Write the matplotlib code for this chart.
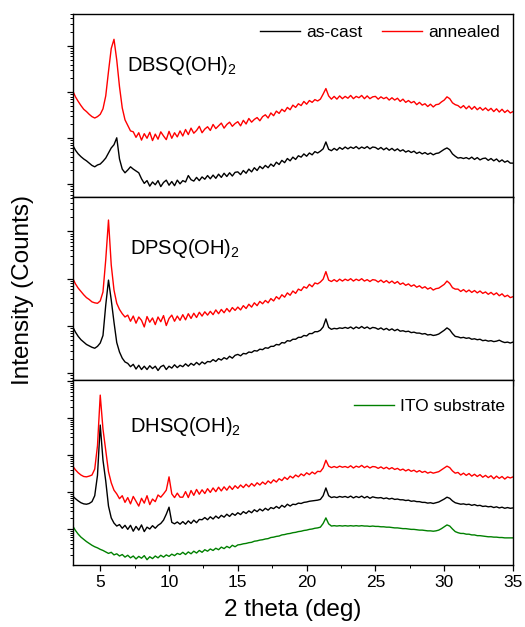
import numpy as np
import matplotlib
matplotlib.use("Agg")
import matplotlib.pyplot as plt
from matplotlib.ticker import LogLocator, MultipleLocator, NullFormatter

plt.rcParams["font.family"] = ["Liberation Sans", "DejaVu Sans"]
plt.rcParams["mathtext.fontset"] = "custom"
plt.rcParams["mathtext.rm"] = "Liberation Sans"

# 2 theta sampling (deg), 0.2 deg steps from 3 to 35
two_theta = np.round(np.arange(3.0, 35.01, 0.2), 1)

# log10 intensity, one row = 2 deg
dbsq_annealed = [
    4.03, 3.90, 3.80, 3.71, 3.63, 3.58, 3.52, 3.47, 3.44, 3.47,
    3.52, 3.64, 3.92, 4.45, 4.95, 5.15, 4.70, 4.12, 3.66, 3.40,
    3.28, 3.16, 3.14, 3.02, 3.12, 2.96, 3.10, 3.00, 3.13, 2.95,
    3.09, 2.98, 3.14, 3.05, 2.97, 3.15, 3.00, 3.12, 3.03, 3.16,
    3.05, 3.19, 3.08, 3.22, 3.11, 3.17, 3.26, 3.12, 3.20, 3.25,
    3.17, 3.30, 3.21, 3.27, 3.33, 3.22, 3.30, 3.35, 3.26, 3.32,
    3.36, 3.27, 3.39, 3.31, 3.43, 3.35, 3.41, 3.45, 3.38, 3.47,
    3.51, 3.44, 3.55, 3.49, 3.59, 3.54, 3.63, 3.58, 3.67, 3.62,
    3.72, 3.67, 3.75, 3.71, 3.80, 3.74, 3.82, 3.78, 3.84, 3.81,
    3.85, 3.96, 4.08, 3.92, 3.85, 3.91, 3.85, 3.92, 3.86, 3.91,
    3.87, 3.93, 3.86, 3.91, 3.88, 3.93, 3.86, 3.92, 3.86, 3.90,
    3.91, 3.85, 3.90, 3.86, 3.89, 3.83, 3.88, 3.83, 3.87, 3.80,
    3.85, 3.78, 3.82, 3.77, 3.80, 3.73, 3.78, 3.72, 3.75, 3.69,
    3.74, 3.68, 3.73, 3.74, 3.79, 3.83, 3.90, 3.86, 3.77, 3.73,
    3.71, 3.66, 3.71, 3.64, 3.70, 3.63, 3.69, 3.62, 3.67, 3.61,
    3.66, 3.60, 3.65, 3.58, 3.64, 3.57, 3.63, 3.56, 3.61, 3.55,
    3.58,
]
dbsq_ascast = [
    2.85, 2.74, 2.66, 2.60, 2.55, 2.51, 2.46, 2.41, 2.38, 2.42,
    2.44, 2.50, 2.57, 2.68, 2.79, 2.86, 3.01, 2.55, 2.33, 2.25,
    2.31, 2.38, 2.33, 2.29, 2.25, 2.12, 2.02, 2.08, 1.96, 2.05,
    1.99, 2.08, 1.95, 2.04, 2.09, 1.98, 2.06, 1.97, 2.09, 2.01,
    2.08, 2.05, 2.19, 2.10, 2.07, 2.15, 2.08, 2.16, 2.11, 2.19,
    2.12, 2.20, 2.13, 2.22, 2.15, 2.24, 2.17, 2.25, 2.18, 2.26,
    2.27, 2.21, 2.30, 2.24, 2.33, 2.27, 2.36, 2.30, 2.39, 2.34,
    2.41, 2.36, 2.44, 2.39, 2.48, 2.43, 2.52, 2.47, 2.56, 2.51,
    2.59, 2.54, 2.62, 2.59, 2.66, 2.61, 2.68, 2.64, 2.71, 2.68,
    2.72, 2.77, 2.92, 2.76, 2.73, 2.78, 2.74, 2.80, 2.76, 2.81,
    2.77, 2.81, 2.78, 2.82, 2.77, 2.81, 2.78, 2.82, 2.77, 2.81,
    2.80, 2.76, 2.80, 2.75, 2.79, 2.74, 2.78, 2.73, 2.77, 2.72,
    2.75, 2.70, 2.73, 2.69, 2.72, 2.67, 2.70, 2.66, 2.69, 2.65,
    2.68, 2.64, 2.67, 2.68, 2.72, 2.76, 2.79, 2.75, 2.66, 2.61,
    2.57, 2.58, 2.56, 2.58, 2.55, 2.59, 2.54, 2.58, 2.53, 2.56,
    2.57, 2.52, 2.56, 2.51, 2.55, 2.49, 2.53, 2.48, 2.51, 2.46,
    2.46,
]
dpsq_annealed = [
    4.01, 3.89, 3.80, 3.73, 3.66, 3.60, 3.56, 3.51, 3.49, 3.48,
    3.53, 3.72, 4.40, 5.24, 4.29, 3.76, 3.48, 3.35, 3.26, 3.19,
    3.23, 3.10, 3.21, 3.06, 3.19, 3.12, 2.98, 3.20, 3.08, 3.17,
    3.03, 3.19, 3.09, 3.22, 3.01, 3.16, 3.23, 3.10, 3.21, 3.12,
    3.24, 3.13, 3.26, 3.16, 3.27, 3.18, 3.29, 3.21, 3.30, 3.23,
    3.31, 3.24, 3.34, 3.26, 3.35, 3.28, 3.37, 3.30, 3.39, 3.33,
    3.40, 3.34, 3.43, 3.37, 3.46, 3.40, 3.49, 3.43, 3.52, 3.47,
    3.54, 3.49, 3.58, 3.53, 3.62, 3.57, 3.66, 3.61, 3.70, 3.65,
    3.74, 3.69, 3.78, 3.75, 3.83, 3.80, 3.88, 3.83, 3.91, 3.89,
    3.93, 3.99, 4.15, 3.97, 3.94, 3.98, 3.94, 3.99, 3.95, 3.99,
    3.96, 4.00, 3.95, 3.99, 3.96, 4.00, 3.95, 3.98, 3.94, 3.98,
    3.97, 3.93, 3.97, 3.92, 3.96, 3.91, 3.95, 3.90, 3.94, 3.88,
    3.91, 3.86, 3.89, 3.84, 3.87, 3.82, 3.85, 3.80, 3.83, 3.78,
    3.81, 3.76, 3.79, 3.80, 3.84, 3.88, 3.95, 3.90, 3.81, 3.78,
    3.78, 3.73, 3.77, 3.72, 3.76, 3.71, 3.75, 3.70, 3.74, 3.69,
    3.72, 3.67, 3.71, 3.66, 3.70, 3.64, 3.68, 3.62, 3.65, 3.60,
    3.62,
]
dpsq_ascast = [
    2.98, 2.87, 2.78, 2.71, 2.66, 2.61, 2.58, 2.55, 2.53, 2.57,
    2.64, 2.80, 3.44, 3.97, 3.55, 3.08, 2.65, 2.45, 2.32, 2.24,
    2.21, 2.14, 2.19, 2.09, 2.17, 2.08, 2.15, 2.08, 2.16, 2.10,
    2.15, 2.06, 2.14, 2.17, 2.08, 2.15, 2.11, 2.18, 2.12, 2.17,
    2.14, 2.20, 2.15, 2.21, 2.17, 2.23, 2.18, 2.24, 2.20, 2.25,
    2.24, 2.29, 2.25, 2.31, 2.28, 2.33, 2.30, 2.36, 2.32, 2.38,
    2.40, 2.37, 2.42, 2.41, 2.45, 2.44, 2.48, 2.47, 2.51, 2.50,
    2.54, 2.53, 2.57, 2.57, 2.61, 2.60, 2.65, 2.64, 2.69, 2.68,
    2.72, 2.72, 2.76, 2.76, 2.80, 2.79, 2.84, 2.84, 2.88, 2.88,
    2.91, 2.98, 3.15, 2.97, 2.93, 2.95, 2.94, 2.96, 2.95, 2.97,
    2.95, 2.98, 2.94, 2.98, 2.95, 2.99, 2.95, 2.98, 2.94, 2.97,
    2.96, 2.93, 2.96, 2.92, 2.95, 2.91, 2.94, 2.90, 2.93, 2.89,
    2.90, 2.88, 2.89, 2.86, 2.87, 2.85, 2.85, 2.83, 2.84, 2.81,
    2.82, 2.80, 2.81, 2.83, 2.87, 2.91, 2.96, 2.92, 2.84, 2.78,
    2.77, 2.75, 2.76, 2.74, 2.75, 2.72, 2.73, 2.71, 2.72, 2.69,
    2.70, 2.68, 2.69, 2.67, 2.68, 2.70, 2.67, 2.65, 2.66, 2.64,
    2.66,
]
dhsq_annealed = [
    3.70, 3.60, 3.52, 3.46, 3.42, 3.41, 3.43, 3.46, 3.62, 4.25,
    5.62, 4.70, 4.12, 3.55, 3.25, 3.05, 2.95, 2.82, 2.90, 2.72,
    2.85, 2.68, 2.88, 2.75, 2.62, 2.83, 2.70, 2.90, 2.66, 2.81,
    2.74, 2.92, 2.86, 2.95, 3.05, 3.41, 2.95, 2.85, 2.97, 2.86,
    2.86, 3.01, 2.85, 3.04, 2.91, 3.07, 2.94, 3.06, 2.96, 3.09,
    2.99, 3.11, 3.01, 3.13, 3.03, 3.14, 3.05, 3.16, 3.07, 3.17,
    3.10, 3.19, 3.12, 3.21, 3.14, 3.23, 3.16, 3.25, 3.19, 3.27,
    3.21, 3.30, 3.24, 3.33, 3.27, 3.36, 3.31, 3.40, 3.34, 3.43,
    3.38, 3.46, 3.41, 3.49, 3.44, 3.52, 3.47, 3.54, 3.49, 3.56,
    3.55, 3.65, 3.86, 3.70, 3.66, 3.69, 3.66, 3.70, 3.67, 3.69,
    3.66, 3.71, 3.65, 3.70, 3.67, 3.72, 3.66, 3.70, 3.65, 3.69,
    3.68, 3.64, 3.68, 3.63, 3.67, 3.62, 3.66, 3.61, 3.64, 3.59,
    3.62, 3.57, 3.61, 3.56, 3.59, 3.54, 3.58, 3.53, 3.56, 3.51,
    3.54, 3.51, 3.53, 3.55, 3.60, 3.65, 3.70, 3.66, 3.57, 3.51,
    3.53, 3.46, 3.51, 3.45, 3.50, 3.43, 3.48, 3.42, 3.47, 3.40,
    3.45, 3.39, 3.44, 3.36, 3.43, 3.37, 3.42, 3.35, 3.41, 3.38,
    3.41,
]
dhsq_ascast = [
    2.89, 2.82, 2.76, 2.71, 2.68, 2.67, 2.69, 2.74, 2.90, 3.45,
    4.81, 3.86, 3.30, 2.62, 2.30, 2.16, 2.08, 2.12, 2.02, 2.10,
    1.99, 2.10, 1.94, 2.07, 1.97, 2.11, 1.93, 2.05, 2.00, 2.09,
    2.02, 2.10, 2.15, 2.24, 2.40, 2.59, 2.18, 2.14, 2.19, 2.13,
    2.20, 2.13, 2.22, 2.15, 2.24, 2.17, 2.26, 2.25, 2.31, 2.25,
    2.33, 2.27, 2.35, 2.29, 2.37, 2.32, 2.40, 2.34, 2.42, 2.37,
    2.44, 2.39, 2.47, 2.42, 2.49, 2.44, 2.52, 2.47, 2.54, 2.49,
    2.56, 2.51, 2.58, 2.55, 2.61, 2.56, 2.64, 2.59, 2.67, 2.62,
    2.67, 2.66, 2.70, 2.69, 2.72, 2.73, 2.75, 2.76, 2.77, 2.78,
    2.80, 2.90, 3.11, 2.90, 2.85, 2.87, 2.85, 2.88, 2.86, 2.88,
    2.85, 2.89, 2.84, 2.88, 2.85, 2.89, 2.84, 2.88, 2.83, 2.87,
    2.85, 2.84, 2.85, 2.82, 2.84, 2.81, 2.83, 2.80, 2.81, 2.79,
    2.79, 2.77, 2.78, 2.75, 2.76, 2.74, 2.74, 2.72, 2.72, 2.70,
    2.71, 2.69, 2.71, 2.73, 2.77, 2.81, 2.86, 2.83, 2.76, 2.71,
    2.69, 2.67, 2.68, 2.66, 2.67, 2.64, 2.66, 2.63, 2.64, 2.61,
    2.62, 2.60, 2.61, 2.58, 2.60, 2.57, 2.59, 2.56, 2.58, 2.56,
    2.57,
]
ito_substrate = [
    2.08, 1.96, 1.86, 1.78, 1.72, 1.66, 1.61, 1.56, 1.52, 1.49,
    1.45, 1.42, 1.38, 1.34, 1.37, 1.30, 1.33, 1.27, 1.31, 1.24,
    1.29, 1.22, 1.27, 1.19, 1.26, 1.21, 1.28, 1.17, 1.25, 1.20,
    1.27, 1.22, 1.29, 1.24, 1.30, 1.26, 1.32, 1.28, 1.34, 1.31,
    1.37, 1.31, 1.38, 1.33, 1.40, 1.35, 1.42, 1.37, 1.44, 1.40,
    1.46, 1.42, 1.48, 1.44, 1.51, 1.47, 1.53, 1.49, 1.56, 1.52,
    1.57, 1.58, 1.60, 1.61, 1.63, 1.64, 1.67, 1.68, 1.70, 1.71,
    1.73, 1.74, 1.77, 1.78, 1.80, 1.81, 1.84, 1.85, 1.87, 1.88,
    1.90, 1.91, 1.93, 1.94, 1.96, 1.97, 1.99, 2.00, 2.02, 2.03,
    2.05, 2.15, 2.30, 2.14, 2.08, 2.09, 2.08, 2.09, 2.08, 2.09,
    2.08, 2.09, 2.08, 2.09, 2.08, 2.09, 2.08, 2.08, 2.07, 2.08,
    2.07, 2.07, 2.06, 2.06, 2.05, 2.05, 2.04, 2.03, 2.03, 2.02,
    2.01, 2.01, 2.00, 1.99, 1.99, 1.98, 1.97, 1.97, 1.96, 1.95,
    1.95, 1.94, 1.95, 1.97, 2.01, 2.06, 2.11, 2.08, 2.00, 1.93,
    1.90, 1.88, 1.88, 1.86, 1.86, 1.84, 1.84, 1.82, 1.82, 1.81,
    1.80, 1.79, 1.79, 1.78, 1.78, 1.77, 1.77, 1.76, 1.76, 1.76,
    1.76,
]

sample_names = ["DBSQ(OH)$_2$", "DPSQ(OH)$_2$", "DHSQ(OH)$_2$"]
panel_ylim_log = [(1.724, 5.70), (1.858, 5.727), (1.027, 6.03)]

fig = plt.figure(figsize=(5.25, 6.27), dpi=100)
left, width = 0.1385, 0.8387
rects = [(left, 0.6858, width, 0.2919),
         (left, 0.3939, width, 0.2919),
         (left, 0.0989, width, 0.2951)]
axes = [fig.add_axes(r) for r in rects]

panels = [
    [(dbsq_ascast, "black", "as-cast"), (dbsq_annealed, "red", "annealed")],
    [(dpsq_ascast, "black", None), (dpsq_annealed, "red", None)],
    [(dhsq_ascast, "black", None), (dhsq_annealed, "red", None),
     (ito_substrate, "#008000", "ITO substrate")],
]
name_pos = [(0.123, 0.690), (0.129, 0.689), (0.130, 0.717)]

for i, ax in enumerate(axes):
    for vals, color, label in panels[i]:
        ax.plot(two_theta, np.power(10.0, vals), color=color, lw=1.0, label=label)
    ax.set_yscale("log")
    lo, hi = panel_ylim_log[i]
    ax.set_ylim(10 ** lo, 10 ** hi)
    ax.set_xlim(3, 35)
    ax.xaxis.set_major_locator(MultipleLocator(5))
    ax.xaxis.set_minor_locator(MultipleLocator(2.5))
    ax.yaxis.set_major_locator(LogLocator(base=10))
    ax.yaxis.set_minor_locator(LogLocator(base=10, subs=np.arange(2, 10)))
    ax.yaxis.set_major_formatter(NullFormatter())
    ax.yaxis.set_minor_formatter(NullFormatter())
    ax.tick_params(which="major", direction="out", length=4.5, width=0.9,
                   labelsize=12.5, pad=3, top=False, right=False)
    ax.tick_params(which="minor", direction="out", length=2.5, width=0.7,
                   top=False, right=False)
    for sp in ax.spines.values():
        sp.set_linewidth(1.0)
    if i < 2:
        ax.tick_params(axis="x", labelbottom=False)
    ax.text(name_pos[i][0], name_pos[i][1], sample_names[i], transform=ax.transAxes,
            ha="left", va="baseline", fontsize=14.5)

leg_kw = dict(frameon=False, fontsize=12.5, handlelength=2.3, handletextpad=0.35,
              columnspacing=1.1, borderpad=0.0, loc="center")
axes[0].legend(ncol=2, bbox_to_anchor=(0.698, 0.900), **leg_kw)
axes[2].legend(handles=axes[2].lines[2:], bbox_to_anchor=(0.810, 0.856), **leg_kw)

fig.text(0.5577, 1 - 610 / 627, "2 theta (deg)", ha="center", va="center", fontsize=17.5)
fig.text(23 / 525, 1 - 290 / 627, "Intensity (Counts)", ha="center", va="center",
         rotation=90, fontsize=17.5)

fig.savefig("out.png", dpi=100)
